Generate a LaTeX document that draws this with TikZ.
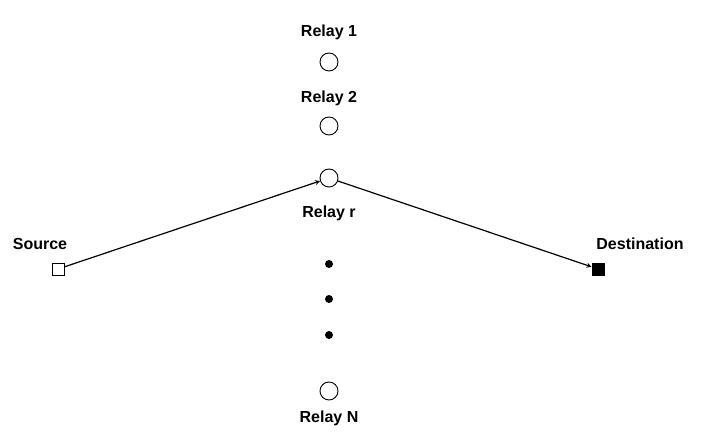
\documentclass[tikz,border=0pt]{standalone}
\usepackage{fontspec}
\setmainfont{Liberation Sans}
\begin{document}
\begin{tikzpicture}[x=1pt,y=-1pt,
 relay/.style={circle,draw,line width=0.9pt,minimum size=18pt,inner sep=0pt},
 dot/.style={circle,fill=black,minimum size=8pt,inner sep=0pt},
 sq/.style={rectangle,draw,line width=0.9pt,minimum size=12pt,inner sep=0pt},
 lab/.style={font=\bfseries\fontsize{16}{18}\selectfont},
 arr/.style={->,line width=1.2pt,>=stealth}]
\useasboundingbox (0,0) rectangle (705,443);
\node[relay] (r1) at (329,62) {};
\node[relay] (r2) at (329,126) {};
\node[relay] (rr) at (329,178) {};
\node[dot] (d1) at (329,264) {};
\node[dot] (d2) at (329,299) {};
\node[dot] (d3) at (329,335) {};
\node[relay] (rn) at (329,391) {};
\node[sq] (s) at (58,269) {};
\node[sq,fill=black] (d) at (598,269) {};
\node[lab] (l1) at (329,32) {Relay 1};
\node[lab] (l2) at (329,98) {Relay 2};
\node[lab] (lr) at (329,213) {Relay r};
\node[lab] (ln) at (329,418) {Relay N};
\node[lab] (ls) at (40,244) {Source};
\node[lab] (ld) at (640,244) {Destination};
\draw[arr] (s) -- (rr);
\draw[arr] (rr) -- (d);
\end{tikzpicture}
\end{document}
